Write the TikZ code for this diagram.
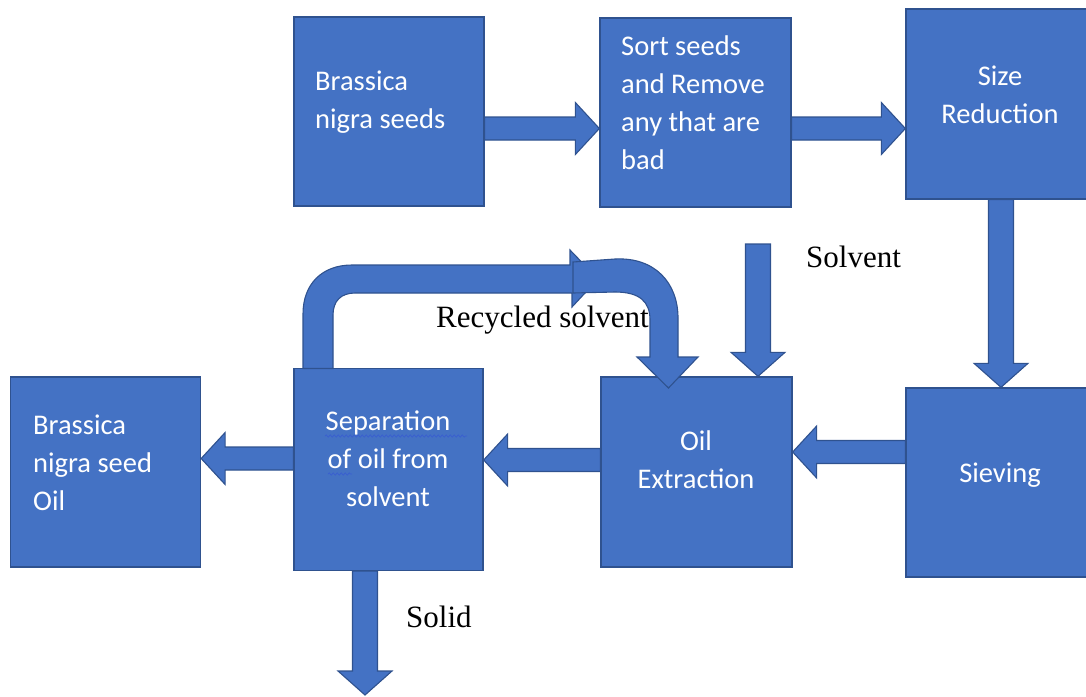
\documentclass[tikz,border=0pt]{standalone}
\usepackage{fontspec}
\setmainfont{Liberation Serif}
\newfontfamily\boxfont{Carlito}
\usetikzlibrary{calc,decorations.pathmorphing}
\definecolor{boxfill}{HTML}{4472C4}
\definecolor{boxline}{HTML}{2F528F}
\definecolor{squig}{HTML}{3A5FD0}
\tikzset{
  procbox/.style={rectangle, draw=boxline, fill=boxfill, line width=1.3pt, inner sep=0pt},
  barrow/.style={draw=boxline, fill=boxfill, line width=1.1pt, line join=miter},
  btext/.style={font=\boxfont\fontsize{28.5}{37.8}\selectfont, text=white, inner sep=0pt},
  lbl/.style={font=\fontsize{31}{36}\selectfont, text=black, inner sep=0pt, anchor=base west},
  squiggle/.style={draw=squig, line width=0.7pt, decorate, decoration={snake, amplitude=1.2pt, segment length=4pt}}
}
% horizontal block arrow: from anchor, to anchor, y (pixels)
\newcommand\harrow[3]{\filldraw[barrow] let \p1=(#1), \p2=(#2), \p3=(0,#3), \n1={ifthenelse(\x2>\x1,1,-1)} in
  (\x1,{\y3+11.5pt}) -- ({\x2-24pt*\n1},{\y3+11.5pt}) -- ({\x2-24pt*\n1},{\y3+26pt}) -- (\x2,\y3)
  -- ({\x2-24pt*\n1},{\y3-26pt}) -- ({\x2-24pt*\n1},{\y3-11.5pt}) -- (\x1,{\y3-11.5pt}) -- cycle;}
% vertical block arrow: from anchor, to anchor, x (pixels)
\newcommand\varrow[3]{\filldraw[barrow] let \p1=(#1), \p2=(#2), \p3=(#3,0), \n1={ifthenelse(\y2>\y1,1,-1)} in
  ({\x3-12.5pt},\y1) -- ({\x3-12.5pt},{\y2-24pt*\n1}) -- ({\x3-27pt},{\y2-24pt*\n1}) -- (\x3,\y2)
  -- ({\x3+27pt},{\y2-24pt*\n1}) -- ({\x3+12.5pt},{\y2-24pt*\n1}) -- ({\x3+12.5pt},\y1) -- cycle;}
\begin{document}
\begin{tikzpicture}[x=1pt,y=-1pt]
\useasboundingbox (0,0) rectangle (1086,696);
% boxes
\node[procbox, minimum width=190pt, minimum height=189pt] (seeds) at (389,111.5) {};
\node[procbox, minimum width=191pt, minimum height=189pt] (sort) at (695.5,112.5) {};
\node[procbox, minimum width=190pt, minimum height=190pt] (size) at (1001,104) {};
\node[procbox, minimum width=190pt, minimum height=189pt] (siev) at (1001,482.5) {};
\node[procbox, minimum width=191pt, minimum height=190pt] (ext) at (696.5,472) {};
\node[procbox, minimum width=189pt, minimum height=202pt] (sep) at (388.5,469.5) {};
\node[procbox, minimum width=190pt, minimum height=190pt] (oil) at (105.5,472) {};
% box texts (anchor = baseline of last line)
\node[btext, anchor=base west, align=left] at (315,128) {Brassica\\nigra seeds};
\node[btext, anchor=base west, align=left] at (621,169) {Sort seeds\\and Remove\\any that are\\bad};
\node[btext, anchor=base, align=center] at (1000,123) {Size\\Reduction};
\node[btext, anchor=base] at (1000,482) {Sieving};
\node[btext, anchor=base, align=center] at (696,488) {Oil\\Extraction};
\node[btext, anchor=base, align=center] at (388,506) {Separation\\of oil from\\solvent};
\node[btext, anchor=base west, align=left] at (33,510) {Brassica\\nigra seed\\Oil};
% spell-check squiggles
\draw[squiggle] (325,436) -- (467,436);
\draw[squiggle] (328,474) -- (352,474);
% straight block arrows
\harrow{seeds.east}{sort.west}{128.5}
\harrow{sort.east}{size.west}{128.5}
\varrow{size.south}{siev.north}{1001}
\harrow{siev.west}{ext.east}{452}
\harrow{ext.west}{sep.east}{460}
\harrow{sep.west}{oil.east}{458.5}
\coordinate (solvtop) at (758,244);
\varrow{solvtop}{ext.north}{758}
\coordinate (solidend) at (365,695);
\varrow{sep.south}{solidend}{365}
% recycled solvent: bent arrow out of the separator
\filldraw[barrow] (303,368.5) -- (303,314) .. controls (303,284) and (322,265) .. (352,265)
  -- (570,265) -- (570,250) -- (598,279) -- (572,307) -- (572,293) -- (355,293)
  .. controls (341,293) and (333,301) .. (333,315) -- (333,368.5) -- cycle;
% recycled solvent: curved arrow into the extractor
\filldraw[barrow] (573,262) -- (615,259) .. controls (655,257) and (678,283) .. (678,318)
  -- (678,357) -- (698,357) -- (668.5,388) -- (637,357) -- (650,357) -- (650,320)
  .. controls (650,302) and (640,292) .. (615,292) -- (573,293) -- cycle;
% labels
\node[lbl] at (806,267) {Solvent};
\node[lbl] at (436,327) {Recycled solvent};
\node[lbl] at (406,627) {Solid};
\end{tikzpicture}
\end{document}
